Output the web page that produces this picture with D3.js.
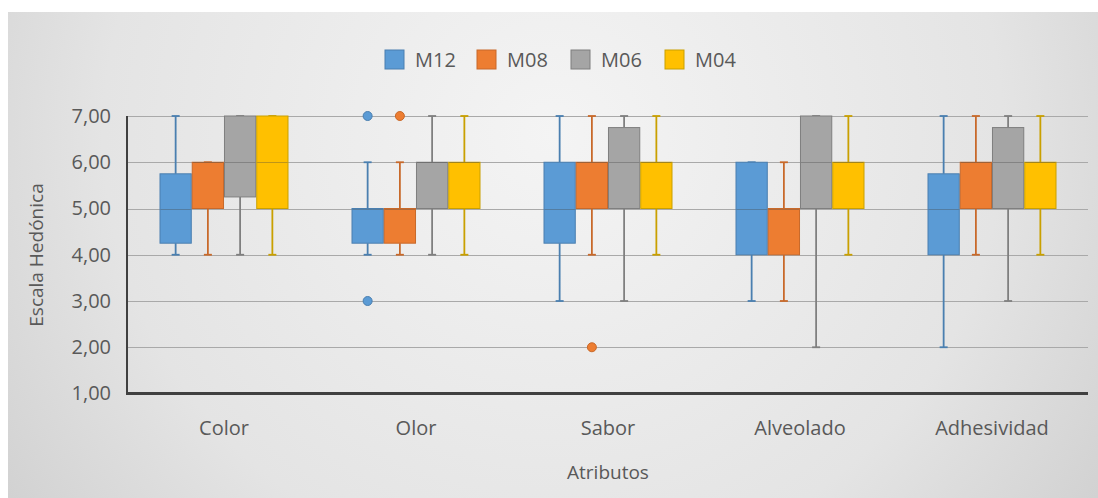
<!DOCTYPE html>
<html>
<head>
<meta charset="utf-8">
<script src="https://cdn.jsdelivr.net/npm/d3@7"></script>
<style>
  body { margin: 0; background: #ffffff; }
  text { font-family: "Open Sans", sans-serif; fill: #595959; }
</style>
</head>
<body>
<div id="chart"></div>
<script>
// categories and series
var categories = ["Color", "Olor", "Sabor", "Alveolado", "Adhesividad"];
var seriesNames = ["M12", "M08", "M06", "M04"];
var seriesColors = ["#5b9bd5", "#ed7d31", "#a5a5a5", "#ffc000"];
var strokeColors = ["#4a7fb0", "#c8692a", "#7f7f7f", "#c9a000"];

// [min, q1, median, q3, max] for each category
var m12 = [[4, 4.25, 5, 5.75, 7], [4, 4.25, 5, 5, 6], [3, 4.25, 5, 6, 7], [3, 4, 5, 6, 6], [2, 4, 5, 5.75, 7]];
var m08 = [[4, 5, 6, 6, 6], [4, 4.25, 5, 5, 6], [4, 5, 6, 6, 7], [3, 4, 5, 5, 6], [4, 5, 6, 6, 7]];
var m06 = [[4, 5.25, 6, 7, 7], [4, 5, 6, 6, 7], [3, 5, 6, 6.75, 7], [2, 5, 6, 7, 7], [3, 5, 6, 6.75, 7]];
var m04 = [[4, 5, 6, 7, 7], [4, 5, 6, 6, 7], [4, 5, 6, 6, 7], [4, 5, 6, 6, 7], [4, 5, 6, 6, 7]];

// outliers: [category, series, value]
var outliers = [["Olor", "M12", 7], ["Olor", "M12", 3], ["Olor", "M08", 7], ["Sabor", "M08", 2]];

var yTicks = [1, 2, 3, 4, 5, 6, 7];

var allSeries = [m12, m08, m06, m04];
var boxes = [];
allSeries.forEach(function(s, si) {
  s.forEach(function(v, ci) {
    boxes.push({ cat: categories[ci], series: seriesNames[si], idx: si,
      min: v[0], q1: v[1], med: v[2], q3: v[3], max: v[4] });
  });
});

var width = 1098, height = 498;
var plot = { left: 128, right: 1088, top: 116, bottom: 393.5 };

var svg = d3.select("#chart")
  .append("svg")
  .attr("width", width)
  .attr("height", height);

var defs = svg.append("defs");
var grad = defs.append("radialGradient")
  .attr("id", "bg")
  .attr("cx", "50%").attr("cy", "25%").attr("r", "75%")
  .attr("gradientTransform", "translate(0.5,0.25) scale(1,2.2) translate(-0.5,-0.25)");
grad.append("stop").attr("offset", "0%").attr("stop-color", "#f4f4f4");
grad.append("stop").attr("offset", "55%").attr("stop-color", "#e4e4e4");
grad.append("stop").attr("offset", "100%").attr("stop-color", "#c4c4c4");

svg.append("rect")
  .attr("x", 8).attr("y", 12)
  .attr("width", width - 8).attr("height", height - 12)
  .attr("fill", "url(#bg)");

var y = d3.scaleLinear()
  .domain([1, 7])
  .range([plot.bottom, plot.top]);

var x0 = d3.scaleBand()
  .domain(categories)
  .range([plot.left, plot.right]);

var x1 = d3.scaleBand()
  .domain(seriesNames)
  .range([(x0.bandwidth() - 128) / 2, (x0.bandwidth() + 128) / 2])
  .paddingInner(0.03);

// gridlines
svg.append("g")
  .selectAll("line")
  .data(yTicks.slice(1))
  .enter()
  .append("line")
  .attr("x1", plot.left).attr("x2", plot.right)
  .attr("y1", function(d) { return Math.round(y(d)) + 0.5; })
  .attr("y2", function(d) { return Math.round(y(d)) + 0.5; })
  .attr("stroke", "#a9a9a9")
  .attr("stroke-width", 1);

// y axis labels
var yAxis = d3.axisLeft(y)
  .tickValues(yTicks)
  .tickSize(0)
  .tickPadding(17)
  .tickFormat(function(d) { return d3.format(".2f")(d).replace(".", ","); });

var yg = svg.append("g")
  .attr("transform", "translate(" + plot.left + ",0)")
  .call(yAxis);
yg.select(".domain").remove();
yg.selectAll("text")
  .style("font-size", "20px")
  .style("fill", "#595959")
  .style("font-family", "'Open Sans', sans-serif");

// x axis labels
var xAxis = d3.axisBottom(x0).tickSize(0).tickPadding(27);
var xg = svg.append("g")
  .attr("transform", "translate(0," + plot.bottom + ")")
  .call(xAxis);
xg.select(".domain").remove();
xg.selectAll("text")
  .style("font-size", "20px")
  .style("fill", "#595959")
  .style("font-family", "'Open Sans', sans-serif");

// axis lines
svg.append("line")
  .attr("x1", plot.left - 1).attr("x2", plot.left - 1)
  .attr("y1", plot.top).attr("y2", plot.bottom)
  .attr("stroke", "#404040").attr("stroke-width", 2);
svg.append("line")
  .attr("x1", plot.left - 2).attr("x2", plot.right)
  .attr("y1", plot.bottom).attr("y2", plot.bottom)
  .attr("stroke", "#404040").attr("stroke-width", 3);

// box groups
var g = svg.append("g");
var bw = x1.bandwidth();
var capW = 8;

var box = g.selectAll(".box")
  .data(boxes)
  .enter()
  .append("g")
  .attr("class", "box")
  .attr("transform", function(d) { return "translate(" + (x0(d.cat) + x1(d.series)) + ",0)"; });

// whiskers
box.append("line")
  .attr("x1", bw / 2).attr("x2", bw / 2)
  .attr("y1", function(d) { return y(d.max); })
  .attr("y2", function(d) { return y(d.q3); })
  .attr("stroke", function(d) { return strokeColors[d.idx]; })
  .attr("stroke-width", 1.8);
box.append("line")
  .attr("x1", bw / 2).attr("x2", bw / 2)
  .attr("y1", function(d) { return y(d.q1); })
  .attr("y2", function(d) { return y(d.min); })
  .attr("stroke", function(d) { return strokeColors[d.idx]; })
  .attr("stroke-width", 1.8);
box.append("line")
  .attr("x1", bw / 2 - capW / 2).attr("x2", bw / 2 + capW / 2)
  .attr("y1", function(d) { return y(d.max); })
  .attr("y2", function(d) { return y(d.max); })
  .attr("stroke", function(d) { return strokeColors[d.idx]; })
  .attr("stroke-width", 1.8);
box.append("line")
  .attr("x1", bw / 2 - capW / 2).attr("x2", bw / 2 + capW / 2)
  .attr("y1", function(d) { return y(d.min); })
  .attr("y2", function(d) { return y(d.min); })
  .attr("stroke", function(d) { return strokeColors[d.idx]; })
  .attr("stroke-width", 1.8);

// boxes
box.append("rect")
  .attr("x", 0)
  .attr("y", function(d) { return y(d.q3); })
  .attr("width", bw)
  .attr("height", function(d) { return y(d.q1) - y(d.q3); })
  .attr("fill", function(d) { return seriesColors[d.idx]; })
  .attr("stroke", function(d) { return strokeColors[d.idx]; })
  .attr("stroke-width", 1);

// median
box.append("line")
  .attr("x1", 0.5).attr("x2", bw - 0.5)
  .attr("y1", function(d) { return Math.round(y(d.med)) + 0.5; })
  .attr("y2", function(d) { return Math.round(y(d.med)) + 0.5; })
  .attr("stroke", "rgba(70,70,70,0.35)")
  .attr("stroke-width", 1);

// outliers
g.selectAll(".outlier")
  .data(outliers)
  .enter()
  .append("circle")
  .attr("class", "outlier")
  .attr("cx", function(d) { return x0(d[0]) + x1(d[1]) + bw / 2; })
  .attr("cy", function(d) { return y(d[2]); })
  .attr("r", 4.5)
  .attr("fill", function(d) { return seriesColors[seriesNames.indexOf(d[1])]; })
  .attr("stroke", function(d) { return strokeColors[seriesNames.indexOf(d[1])]; })
  .attr("stroke-width", 1);

// legend
var legendX = [385, 477, 571, 665];
var legend = svg.append("g")
  .selectAll("g")
  .data(seriesNames)
  .enter()
  .append("g")
  .attr("transform", function(d, i) { return "translate(" + legendX[i] + ",50)"; });
legend.append("rect")
  .attr("width", 19).attr("height", 19)
  .attr("fill", function(d, i) { return seriesColors[i]; })
  .attr("stroke", function(d, i) { return strokeColors[i]; })
  .attr("stroke-width", 1);
legend.append("text")
  .attr("x", 30).attr("y", 17)
  .style("font-size", "20px")
  .text(function(d) { return d; });

// axis titles
svg.append("text")
  .attr("x", plot.left + (plot.right - plot.left) / 2)
  .attr("y", 479)
  .attr("text-anchor", "middle")
  .style("font-size", "19px")
  .text("Atributos");

svg.append("text")
  .attr("transform", "translate(43,255) rotate(-90)")
  .attr("text-anchor", "middle")
  .style("font-size", "19px")
  .text("Escala Hedónica");
</script>
</body>
</html>
